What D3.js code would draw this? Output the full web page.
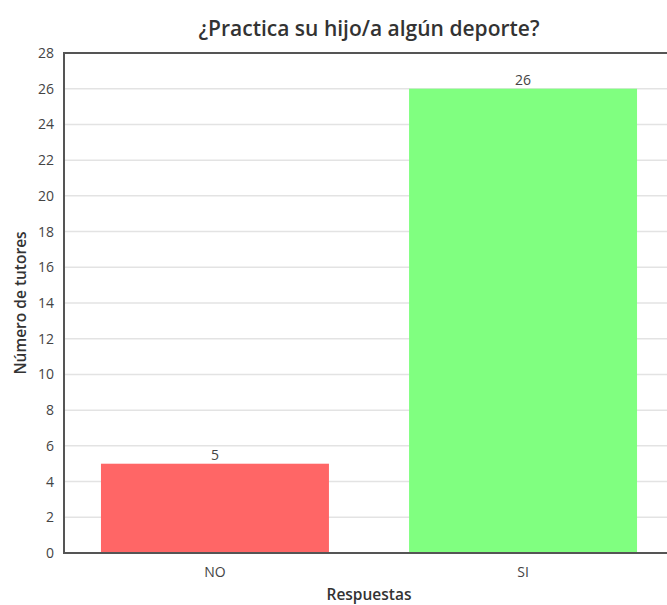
<!DOCTYPE html>
<html>
<head>
<meta charset="utf-8">
<script src="https://cdn.jsdelivr.net/npm/d3@7"></script>
<style>
  html, body { margin: 0; padding: 0; background: #fff; }
  svg { display: block; font-family: "Open Sans", sans-serif; }
</style>
</head>
<body>
<svg id="chart" width="667" height="605"></svg>
<script>
// Respuestas a la encuesta
const categories = ["NO", "SI"];
const values = [5, 26];
const barColors = ["#ff6666", "#80ff80"];
const yTicks = [0, 2, 4, 6, 8, 10, 12, 14, 16, 18, 20, 22, 24, 26, 28];
const titleText = "¿Practica su hijo/a algún deporte?";
const xLabel = "Respuestas";
const yLabel = "Número de tutores";

const svg = d3.select("#chart");
const m = { left: 64, right: 674, top: 53, bottom: 553 };

const x = d3.scaleBand().domain(categories).range([m.left, m.right])
  .paddingInner(0.26).paddingOuter(0.12);
const y = d3.scaleLinear().domain([0, 28]).range([m.bottom, m.top]);

// Líneas de cuadrícula
svg.append("g").selectAll("line").data(yTicks.filter(d => d > 0 && d < 28)).join("line")
  .attr("x1", m.left).attr("x2", m.right)
  .attr("y1", d => y(d)).attr("y2", d => y(d))
  .attr("stroke", "#e3e3e3").attr("stroke-width", 1.5);

// Barras
svg.append("g").selectAll("rect").data(categories).join("rect")
  .attr("x", d => x(d)).attr("width", x.bandwidth())
  .attr("y", (d, i) => y(values[i]))
  .attr("height", (d, i) => y(0) - y(values[i]))
  .attr("fill", (d, i) => barColors[i]);

// Etiquetas de valor
svg.append("g").selectAll("text").data(categories).join("text")
  .attr("x", d => x(d) + x.bandwidth() / 2)
  .attr("y", (d, i) => y(values[i]) - 4)
  .attr("text-anchor", "middle")
  .attr("font-size", 14).attr("fill", "#444")
  .text((d, i) => values[i]);

// Eje Y
const yAxis = svg.append("g").attr("transform", `translate(${m.left},0)`)
  .call(d3.axisLeft(y).tickValues(yTicks).tickSize(0).tickPadding(10));
yAxis.select(".domain").remove();
yAxis.selectAll("text").attr("font-size", 14).attr("fill", "#444")
  .attr("font-family", "Open Sans, sans-serif");

// Eje X
const xAxis = svg.append("g").attr("transform", `translate(0,${m.bottom})`)
  .call(d3.axisBottom(x).tickSize(0).tickPadding(0));
xAxis.select(".domain").remove();
xAxis.selectAll("text").attr("font-size", 14).attr("fill", "#444")
  .attr("font-family", "Open Sans, sans-serif")
  .attr("dy", null).attr("y", 24);

// Marco: izquierda, arriba y abajo
const frame = svg.append("g").attr("stroke", "#555").attr("stroke-width", 2).attr("fill", "none");
frame.append("line").attr("x1", m.left).attr("x2", m.left).attr("y1", m.top - 1).attr("y2", m.bottom + 1);
frame.append("line").attr("x1", m.left - 1).attr("x2", m.right).attr("y1", m.top).attr("y2", m.top);
frame.append("line").attr("x1", m.left - 1).attr("x2", m.right).attr("y1", m.bottom).attr("y2", m.bottom);

// Título
svg.append("text").attr("x", (m.left + m.right) / 2).attr("y", 36)
  .attr("text-anchor", "middle").attr("font-size", 21).attr("font-weight", 600)
  .attr("fill", "#333").text(titleText);

// Títulos de ejes
svg.append("text").attr("x", (m.left + m.right) / 2).attr("y", 600)
  .attr("text-anchor", "middle").attr("font-size", 15.5).attr("font-weight", 600)
  .attr("fill", "#333").text(xLabel);
svg.append("text")
  .attr("transform", `translate(26,${(m.top + m.bottom) / 2}) rotate(-90)`)
  .attr("text-anchor", "middle").attr("font-size", 15.5).attr("font-weight", 600)
  .attr("fill", "#333").text(yLabel);
</script>
</body>
</html>
